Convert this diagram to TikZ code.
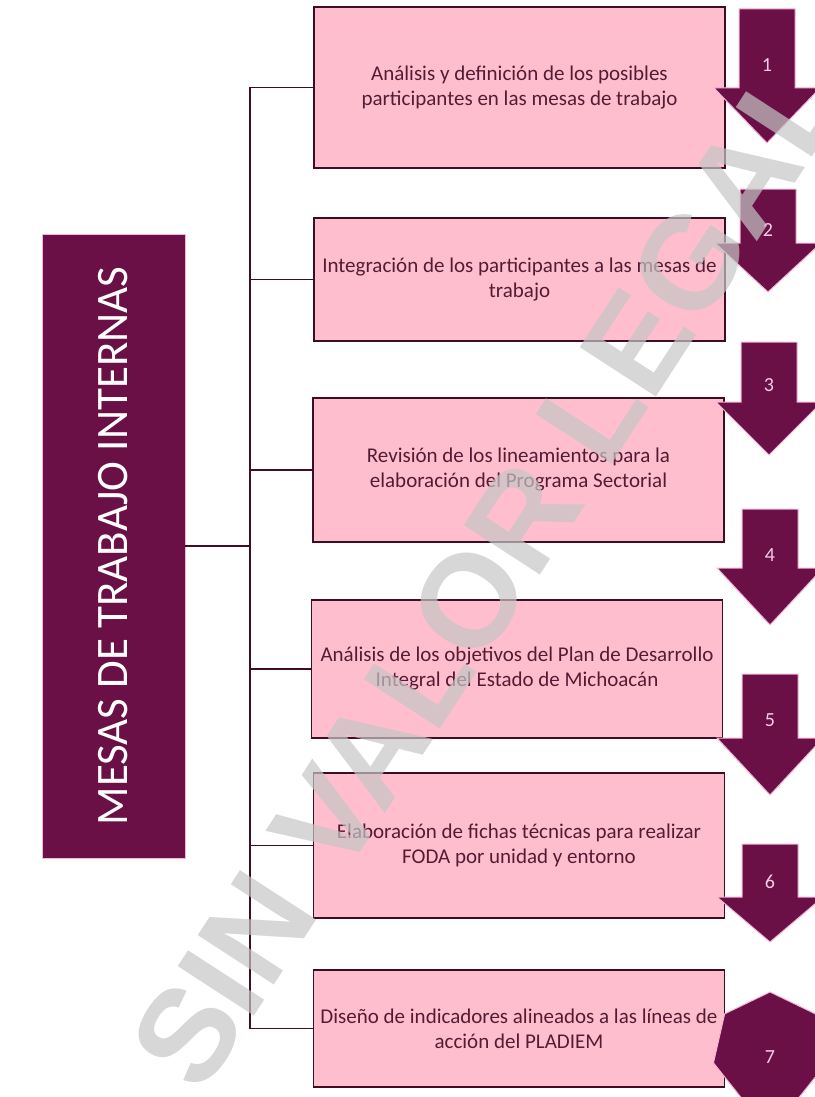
\documentclass[tikz,border=0pt]{standalone}
\usepackage{fontspec}
\setmainfont{Carlito}
\newfontfamily\marcafont{Liberation Sans}
\usetikzlibrary{shapes.geometric}
\definecolor{vino}{RGB}{106,16,70}
\definecolor{rosa}{RGB}{255,190,206}
\definecolor{borde}{RGB}{62,12,36}
\definecolor{letra}{RGB}{84,28,52}
\definecolor{cifra}{RGB}{242,206,228}
\definecolor{halo}{RGB}{246,180,214}
\tikzset{
  caja/.style={draw=borde,line width=1.3pt,fill=rosa,text=letra,align=center,inner sep=0pt,
    minimum width=411,minimum height=#1,font=\fontsize{21}{25}\selectfont},
  rama/.style={draw=borde,line width=1.4pt},
  cifra/.style={text=cifra,font=\fontsize{20}{20}\selectfont}
}
\begin{document}
\begin{tikzpicture}[x=1pt,y=-1pt]
    \useasboundingbox (0,0) rectangle (814,1097);
    \node[fill=vino,draw=halo,line width=.8pt,minimum width=143,minimum height=624,inner sep=0pt,
      text=white,font=\fontsize{45}{45}\selectfont] (mesas) at (113.5,546)
      {\rotatebox{90}{MESAS DE TRABAJO INTERNAS}};
    \node[caja=161] (b1) at (519.5,87.5) {Análisis y definición de los posibles\\participantes en las mesas de trabajo};
    \node[caja=123] (b2) at (519.5,279.5) {Integración de los participantes a las mesas de\\trabajo};
    \node[caja=144] (b3) at (518.5,470) {Revisión de los lineamientos para la\\elaboración del Programa Sectorial};
    \node[caja=138] (b4) at (517,669) {Análisis de los objetivos del Plan de Desarrollo\\Integral del Estado de Michoacán};
    \node[caja=145] (b5) at (519,845.5) {Elaboración de fichas técnicas para realizar\\FODA por unidad y entorno};
    \node[caja=117] (b6) at (519,1028.5) {Diseño de indicadores alineados a las líneas de\\acción del PLADIEM};
    \coordinate (tronco) at (250,546);
    \draw[rama] (mesas.east) -- (tronco);
    \draw[rama] (b1.west -| tronco) -- (b6.west -| tronco);
    \foreach \i in {1,...,6}
      \draw[rama] (b\i.west -| tronco) -- (b\i.west);
    \foreach \n/\cx/\t/\w/\b/\ly in {1/767/9/88/143/65,2/768/189/243/292/230,3/769/342/402/455/385,
      4/770/509/568/625/555,5/770/674/738/795/720,6/770/844/897/942/882}{
      \filldraw[fill=vino,draw=halo,line width=1pt] (\cx-28,\t) -- (\cx+28,\t) -- (\cx+28,\w) -- (\cx+53,\w)
        -- (\cx,\b) -- (\cx-53,\w) -- (\cx-28,\w) -- cycle;
      \node[cifra] (n\n) at (\cx,\ly) {\n};
    }
    \node[regular polygon,regular polygon sides=7,minimum size=116,inner sep=0pt,fill=vino,draw=halo,
      line width=1pt] (hepta) at (770,1050) {};
    \node[cifra] (n7) at (770,1057) {7};
    \node[rotate=57,text=gray!45,opacity=.7,font=\marcafont\bfseries\fontsize{132}{132}\selectfont]
      (marca) at (488,572) {SIN VALOR LEGAL};
\end{tikzpicture}
\end{document}
